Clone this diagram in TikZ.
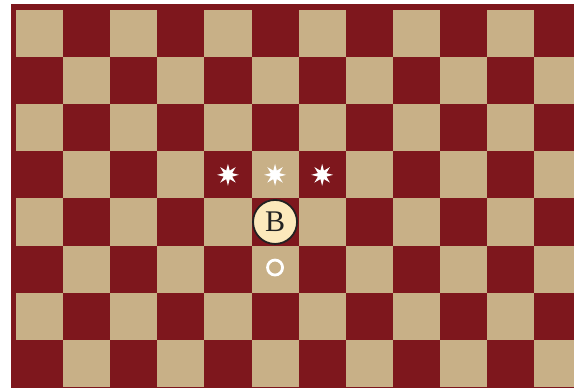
\documentclass[tikz,border=0pt]{standalone}
\usepackage{fontspec}
\setmainfont{Liberation Serif}
\usetikzlibrary{shapes.geometric}
\definecolor{boardred}{RGB}{126,23,29}
\definecolor{boardtan}{RGB}{200,176,135}
\definecolor{piececream}{RGB}{252,233,188}
\definecolor{piecedark}{RGB}{34,34,34}
\tikzset{
  lightsq/.style={fill=boardtan},
  mark star/.style={star, star points=8, star point ratio=2.4, minimum size=22pt, inner sep=0pt, fill=white, draw=none},
  target ring/.style={circle, draw=white, line width=2.8pt, minimum size=15pt, inner sep=0pt},
  bishop/.style={circle, draw=piecedark, line width=1.8pt, fill=piececream, minimum size=44pt, inner sep=0pt, font=\fontsize{30}{30}\selectfont, text=piecedark},
}
\begin{document}
\begin{tikzpicture}[x=1pt,y=-1pt]
\useasboundingbox (0,0) rectangle (574,388);
\fill[boardred] (11,4) rectangle (574,388);
\begin{scope}
\clip (11,4) rectangle (574,388);
\foreach \r in {0,...,7}{
  \foreach \c in {0,...,11}{
    \pgfmathparse{int(mod(\r+\c,2))}
    \ifnum\pgfmathresult=0
      \fill[lightsq] ({16+47.1*\c},{10+47.1*\r}) rectangle ({16+47.1*(\c+1)},{10+47.1*(\r+1)});
    \fi
  }
}
\end{scope}
\node[mark star] (s1) at ({16+47.1*4.5},{10+47.1*3.5}) {};
\node[mark star] (s2) at ({16+47.1*5.5},{10+47.1*3.5}) {};
\node[mark star] (s3) at ({16+47.1*6.5},{10+47.1*3.5}) {};
\node[bishop] (b) at ({16+47.1*5.5},{10+47.1*4.5}) {B};
\node[target ring] (t) at ({16+47.1*5.5},{10+47.1*5.5-1.5}) {};
\end{tikzpicture}
\end{document}
